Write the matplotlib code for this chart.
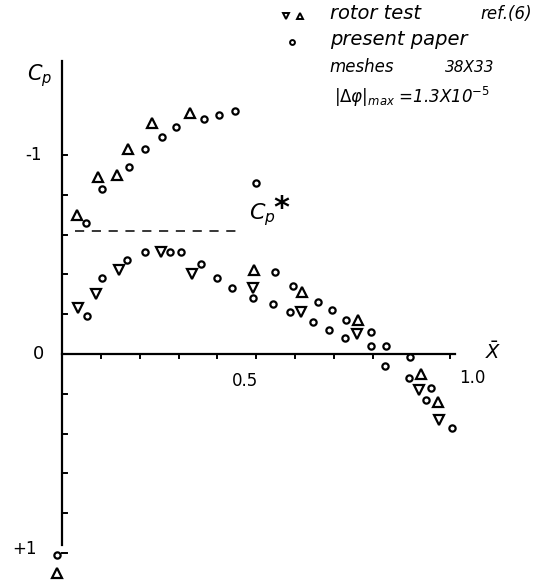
import matplotlib
matplotlib.use("Agg")
import matplotlib.pyplot as plt

# ---- data (x/c, Cp) ----
tri_up_x = [0.039, 0.093, 0.142, 0.170, 0.232, 0.330, 0.495, 0.619, 0.763, 0.925, 0.969, -0.013]
tri_up_cp = [-0.70, -0.89, -0.90, -1.03, -1.16, -1.21, -0.42, -0.31, -0.17, 0.10, 0.24, 1.10]

tri_dn_x = [0.041, 0.088, 0.147, 0.255, 0.335, 0.492, 0.616, 0.760, 0.920, 0.972]
tri_dn_cp = [-0.23, -0.30, -0.42, -0.51, -0.40, -0.33, -0.21, -0.10, 0.18, 0.33]

circ_x = [0.062, 0.103, 0.173, 0.214, 0.258, 0.294, 0.366, 0.405, 0.446, 0.500,
          0.064, 0.103, 0.168, 0.214, 0.278, 0.307, 0.358, 0.399, 0.438, 0.492,
          0.549, 0.544, 0.595, 0.588, 0.660, 0.647, 0.696, 0.688, 0.732, 0.729,
          0.796, 0.796, 0.835, 0.832, 0.897, 0.894, 0.951, 0.938, 1.005, -0.013]
circ_cp = [-0.66, -0.83, -0.94, -1.03, -1.09, -1.14, -1.18, -1.20, -1.22, -0.86,
           -0.19, -0.38, -0.47, -0.51, -0.51, -0.51, -0.45, -0.38, -0.33, -0.28,
           -0.41, -0.25, -0.34, -0.21, -0.26, -0.16, -0.22, -0.12, -0.17, -0.08,
           -0.11, -0.04, -0.04, 0.06, 0.015, 0.12, 0.17, 0.23, 0.37, 1.01]

cp_star = -0.62
cp_star_x = [0.034, 0.45]

x_ticks = [0.1, 0.2, 0.3, 0.4, 0.5, 0.6, 0.7, 0.8, 0.9, 1.0]
y_ticks = [-1.0, -0.8, -0.6, -0.4, -0.2, 0.2, 0.4, 0.6, 0.8, 1.0]

fig = plt.figure(figsize=(5.53, 5.81), dpi=100)
ax = fig.add_axes([0, 0, 1, 1])
ax.set_xlim(-0.16, 1.265)
ax.set_ylim(1.141, -1.779)
ax.axis("off")

ink = "black"
# axes lines
ax.plot([0, 0], [-1.47, 0.96], color=ink, lw=1.6)
ax.plot([0, 1.013], [0, 0], color=ink, lw=1.6)
for t in x_ticks:
    ax.plot([t, t], [0, 0.02], color=ink, lw=1.4)
for t in y_ticks:
    ax.plot([0, 0.012], [t, t], color=ink, lw=1.4)

# Cp* dashed line
ax.plot(cp_star_x, [cp_star, cp_star], color=ink, lw=1.1, dashes=(6, 5))

# markers
ax.plot(tri_up_x, tri_up_cp, ls="none", marker="^", ms=7, mfc="white", mec=ink, mew=1.6)
ax.plot(tri_dn_x, tri_dn_cp, ls="none", marker="v", ms=7, mfc="white", mec=ink, mew=1.6)
ax.plot(circ_x, circ_cp, ls="none", marker="o", ms=4.5, mfc="white", mec=ink, mew=1.6)

font = dict(family="DejaVu Sans", style="italic", color=ink)
# axis labels
ax.text(-0.057, -1.40, "$C_p$", fontsize=15, ha="center", va="center", color=ink)
ax.text(-0.052, -1.0, "-1", fontsize=12, ha="right", va="center", color=ink)
ax.text(-0.062, 0.0, "0", fontsize=13, ha="center", va="center", color=ink)
ax.text(0.472, 0.136, "0.5", fontsize=12, ha="center", va="center", color=ink)
ax.text(1.057, 0.12, "1.0", fontsize=12, ha="center", va="center", color=ink)
ax.text(1.11, -0.01, r"$\bar{X}$", fontsize=14, ha="center", va="center", color=ink)
ax.text(-0.098, 0.98, "+1", fontsize=12, ha="center", va="center", color=ink)
ax.text(0.515, -0.70, r"$C_p$", fontsize=16, ha="center", va="center", color=ink)
ax.text(0.565, -0.73, "*", fontsize=22, ha="center", va="center", color=ink, fontweight="bold")

# legend
ax.plot([0.578], [-1.70], ls="none", marker="v", ms=5, mfc="white", mec=ink, mew=1.4)
ax.plot([0.614], [-1.70], ls="none", marker="^", ms=5, mfc="white", mec=ink, mew=1.4)
ax.text(0.69, -1.71, "rotor test", fontsize=14, ha="left", va="center", **font)
ax.text(1.077, -1.71, "ref.(6)", fontsize=12, ha="left", va="center", **font)
ax.plot([0.593], [-1.57], ls="none", marker="o", ms=3.5, mfc="white", mec=ink, mew=1.4)
ax.text(0.69, -1.58, "present paper", fontsize=14, ha="left", va="center", **font)
ax.text(0.69, -1.44, "meshes", fontsize=12, ha="left", va="center", **font)
ax.text(0.987, -1.44, "38X33", fontsize=11, ha="left", va="center", **font)
ax.text(0.70, -1.29, r"$|\Delta\varphi|_{max}$ =1.3X10$^{-5}$", fontsize=12, ha="left", va="center", **font)

fig.savefig("out.png", dpi=100)
